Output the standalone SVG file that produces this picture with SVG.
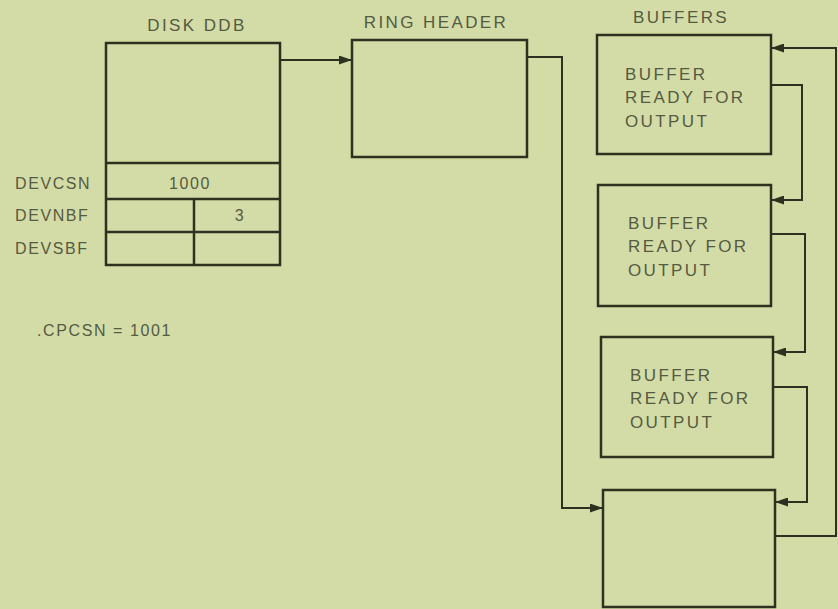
<svg xmlns="http://www.w3.org/2000/svg" width="838" height="609" viewBox="0 0 838 609">
<style>
.box{fill:none;stroke:#2c3120;stroke-width:2.5}
.ln{fill:none;stroke:#2c3120;stroke-width:2}
.t{font-family:"Liberation Sans",Arial,sans-serif;font-size:17px;fill:#555a42;letter-spacing:2.4px}
.s{font-family:"Liberation Sans",Arial,sans-serif;font-size:16px;fill:#555a42;letter-spacing:1.6px}
</style>
<defs>
<marker id="ah" markerWidth="13" markerHeight="9" refX="12" refY="4.5" orient="auto" markerUnits="userSpaceOnUse">
<path d="M0,0 L13,4.5 L0,9 Z" fill="#2c3120"/>
</marker>
</defs>
<rect width="838" height="609" fill="#d3dca6"/>
<g id="disk-ddb">
<text class="t" x="197" y="31" text-anchor="middle">DISK DDB</text>
<rect class="box" x="106" y="43" width="174" height="222"/>
<line class="box" x1="106" y1="163" x2="280" y2="163"/>
<line class="box" x1="106" y1="199" x2="280" y2="199"/>
<line class="box" x1="106" y1="232" x2="280" y2="232"/>
<line class="box" x1="194" y1="199" x2="194" y2="265"/>
<text class="s" x="190" y="189" text-anchor="middle" font-size="17">1000</text>
<text class="s" x="240" y="221" text-anchor="middle" font-size="17">3</text>
<text class="s" x="15" y="189">DEVCSN</text>
<text class="s" x="15" y="221">DEVNBF</text>
<text class="s" x="15" y="254">DEVSBF</text>
</g>
<g id="cpcsn">
<text class="s" x="37" y="336" letter-spacing="1" font-size="17">.CPCSN = 1001</text>
</g>
<g id="ring-header">
<text class="t" x="436" y="28" text-anchor="middle" letter-spacing="2.8">RING HEADER</text>
<rect class="box" x="352" y="40" width="175" height="117"/>
</g>
<g id="buffers-label">
<text class="t" x="681" y="23" text-anchor="middle">BUFFERS</text>
</g>
<g id="buffer1">
<rect class="box" x="597" y="35" width="174" height="119"/>
<text class="t" x="625" y="80">BUFFER</text>
<text class="t" x="625" y="103">READY FOR</text>
<text class="t" x="625" y="127">OUTPUT</text>
</g>
<g id="buffer2">
<rect class="box" x="598" y="185" width="173" height="121"/>
<text class="t" x="628" y="229">BUFFER</text>
<text class="t" x="628" y="252">READY FOR</text>
<text class="t" x="628" y="276">OUTPUT</text>
</g>
<g id="buffer3">
<rect class="box" x="601" y="337" width="172" height="120"/>
<text class="t" x="630" y="381">BUFFER</text>
<text class="t" x="630" y="404">READY FOR</text>
<text class="t" x="630" y="428">OUTPUT</text>
</g>
<g id="buffer4">
<rect class="box" x="603" y="490" width="172" height="117"/>
</g>
<g id="connectors">
<path class="ln" d="M280,60 H351" marker-end="url(#ah)"/>
<path class="ln" d="M527,57 H562 V508 H602" marker-end="url(#ah)"/>
<path class="ln" d="M771,85 H802 V200 H772" marker-end="url(#ah)"/>
<path class="ln" d="M771,234 H805 V352 H774" marker-end="url(#ah)"/>
<path class="ln" d="M773,387 H807 V502 H776" marker-end="url(#ah)"/>
<path class="ln" d="M775,536 H836 V48 H772" marker-end="url(#ah)"/>
</g>
</svg>
